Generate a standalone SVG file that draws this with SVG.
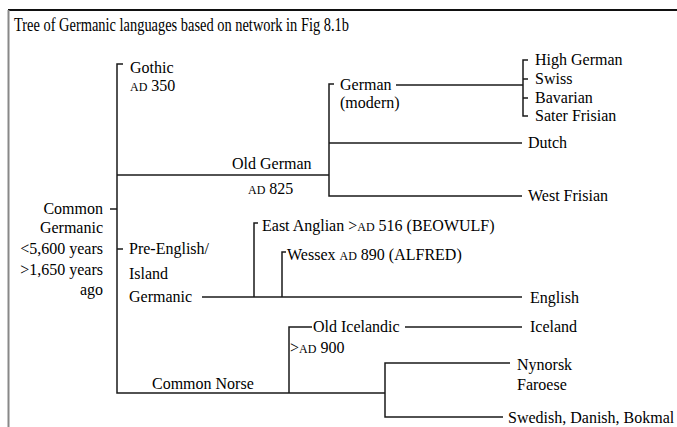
<svg xmlns="http://www.w3.org/2000/svg" width="677" height="427" viewBox="0 0 677 427">
<style>
text{font-family:"Liberation Serif","Times New Roman",Times,serif;font-size:16px;fill:#000}
.sc{font-size:12px}
.r{text-anchor:end}
.ln{stroke:#1a1a1a;stroke-width:1.5;fill:none}
</style>
<rect x="0" y="0" width="677" height="427" fill="#fff"/>
<g id="frame">
<line x1="8" y1="10" x2="677" y2="10" stroke="#111" stroke-width="2"/>
<line x1="8.5" y1="10" x2="8.5" y2="427" stroke="#888" stroke-width="2"/>
</g>
<g font-family="Liberation Serif, serif">
<text id="title" x="14" y="31" textLength="335" lengthAdjust="spacingAndGlyphs" style="font-size:18px">Tree of Germanic languages based on network in Fig 8.1b</text>
<g id="connectors" class="ln">
<path d="M123,64 H117 V393 H385"/>
<path d="M110,209 H117"/>
<path d="M117,249 H123"/>
<path d="M117,175 H329"/>
<path d="M334,84 H329 V196 H522"/>
<path d="M329,143 H522"/>
<path d="M396,85 H523"/>
<path d="M528,60 H523 V116 H528 M523,79 H528 M523,98 H528"/>
<path d="M202,297 H522"/>
<path d="M254,297 V223 H258"/>
<path d="M282,297 V252 H286"/>
<path d="M289,393 V327 H312"/>
<path d="M405,327 H522"/>
<path d="M510,363 H385 V417 H503"/>
</g>
<g id="common-germanic">
<text class="r" x="103" y="214">Common</text>
<text class="r" x="103" y="233">Germanic</text>
<text class="r" x="103" y="254">&lt;5,600 years</text>
<text class="r" x="103" y="275">&gt;1,650 years</text>
<text class="r" x="103" y="295">ago</text>
</g>
<g id="gothic">
<text x="130" y="73">Gothic</text>
<text x="130" y="91"><tspan class="sc">AD</tspan> 350</text>
</g>
<g id="old-german">
<text x="232" y="169">Old German</text>
<text x="248" y="194"><tspan class="sc">AD</tspan> 825</text>
</g>
<g id="german-modern">
<text x="340" y="90">German</text>
<text x="340" y="108">(modern)</text>
</g>
<g id="high-german"><text x="535" y="65">High German</text></g>
<g id="swiss"><text x="535" y="84">Swiss</text></g>
<g id="bavarian"><text x="535" y="103">Bavarian</text></g>
<g id="sater-frisian"><text x="535" y="121">Sater Frisian</text></g>
<g id="dutch"><text x="528" y="148">Dutch</text></g>
<g id="west-frisian"><text x="528" y="201">West Frisian</text></g>
<g id="east-anglian"><text x="262" y="231">East Anglian &gt;<tspan class="sc">AD</tspan> 516 (BEOWULF)</text></g>
<g id="wessex"><text x="287" y="260">Wessex <tspan class="sc">AD</tspan> 890 (ALFRED)</text></g>
<g id="pre-english">
<text x="129" y="254">Pre-English/</text>
<text x="129" y="279">Island</text>
<text x="129" y="302">Germanic</text>
</g>
<g id="english"><text x="530" y="303">English</text></g>
<g id="old-icelandic">
<text x="313" y="332">Old Icelandic</text>
<text x="290" y="353">&gt;<tspan class="sc">AD</tspan> 900</text>
</g>
<g id="iceland"><text x="530" y="332">Iceland</text></g>
<g id="common-norse"><text x="152" y="389">Common Norse</text></g>
<g id="nynorsk">
<text x="517" y="370">Nynorsk</text>
<text x="517" y="390">Faroese</text>
</g>
<g id="swedish"><text x="508" y="423">Swedish, Danish, Bokmal</text></g>
</g>
</svg>
